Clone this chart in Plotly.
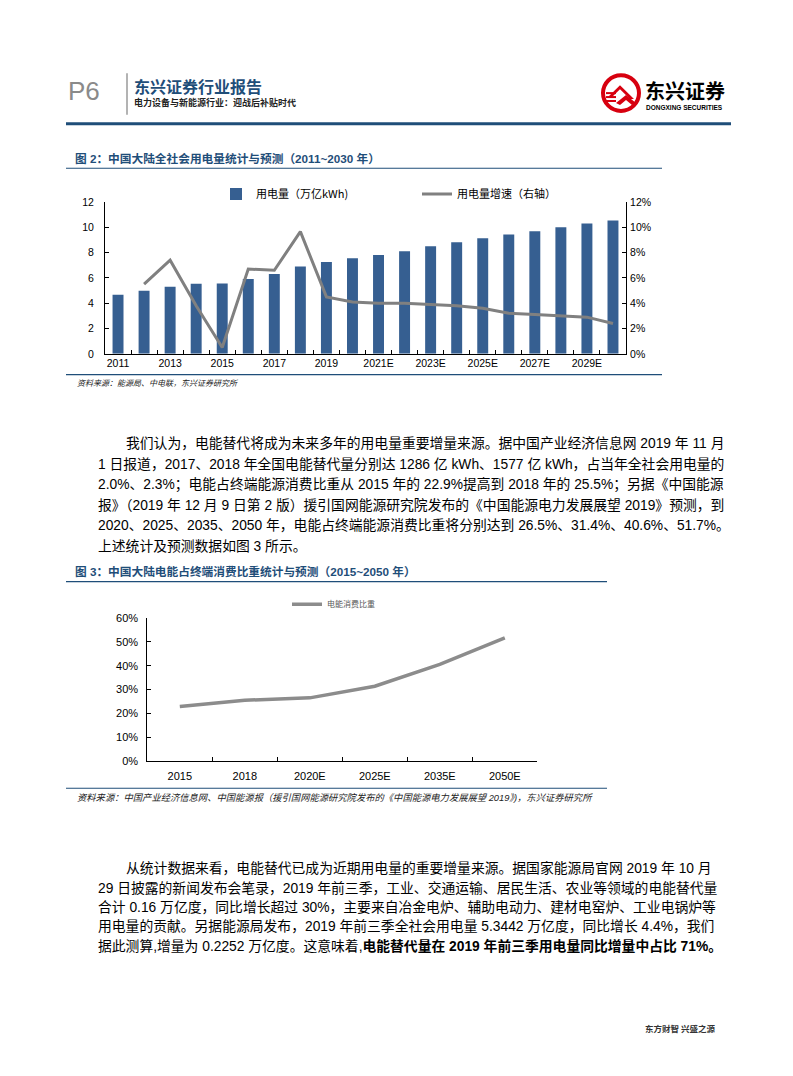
import plotly.graph_objects as go

W, H = 793, 1076
OX, OY = 8, 8  # page body margin offset

# ---------------- data ----------------
years = ["2011", "2012", "2013", "2014", "2015", "2016", "2017", "2018", "2019",
         "2020E", "2021E", "2022E", "2023E", "2024E", "2025E", "2026E", "2027E",
         "2028E", "2029E", "2030E"]
year_tick_labels = ["2011", "", "2013", "", "2015", "", "2017", "", "2019", "",
                    "2021E", "", "2023E", "", "2025E", "", "2027E", "", "2029E", ""]
consumption = [4.67, 4.98, 5.30, 5.53, 5.55, 5.92, 6.31, 6.90, 7.26, 7.55, 7.80,
               8.11, 8.50, 8.82, 9.13, 9.43, 9.68, 9.99, 10.29, 10.53]
growth_pct = [None, 5.5, 7.4, 3.8, 0.5, 6.7, 6.6, 9.65, 4.5, 4.1, 4.0, 4.0, 3.9,
              3.8, 3.6, 3.2, 3.1, 3.0, 2.9, 2.4]

share_years = ["2015", "2018", "2020E", "2025E", "2035E", "2050E"]
share_pct = [22.9, 25.5, 26.5, 31.4, 40.6, 51.7]

# ---------------- style ----------------
NAVY = "#1F4E79"
BAR = "#365F91"
GRAY_LINE = "#808080"
FONT = "Liberation Sans, Noto Sans CJK SC, sans-serif"
CJK = "Noto Sans CJK SC, Liberation Sans, sans-serif"


def px(x):
    return (x - OX) / W


def py(y):
    return 1 - (y - OY) / H


fig = go.Figure()

fig.add_trace(go.Bar(
    x=years, y=consumption, name="用电量（万亿kWh)",
    marker=dict(color=BAR, line=dict(width=0)),
    xaxis="x", yaxis="y", legend="legend",
))
fig.add_trace(go.Scatter(
    x=years, y=[None if g is None else g / 100 for g in growth_pct],
    name="用电量增速（右轴）", mode="lines",
    line=dict(color=GRAY_LINE, width=3),
    xaxis="x", yaxis="y2", legend="legend",
))
fig.add_trace(go.Scatter(
    x=share_years, y=[v / 100 for v in share_pct], name="电能消费比重",
    mode="lines", line=dict(color="#8C8C8C", width=3.5),
    xaxis="x2", yaxis="y3", legend="legend2",
))

axis_common = dict(showline=True, linecolor="black", linewidth=1, showgrid=False,
                   zeroline=False, ticks="inside", ticklen=4, tickcolor="black",
                   tickangle=0,
                   tickfont=dict(family=FONT, size=10.5, color="black"))
axis_c2 = {**axis_common, "tickfont": dict(family=FONT, size=11, color="black")}

legend_common = dict(orientation="h", xanchor="left", yanchor="middle",
                     bgcolor="rgba(0,0,0,0)", itemwidth=30, tracegroupgap=0)

fig.update_layout(
    width=W, height=H, autosize=False,
    margin=dict(l=0, r=0, t=0, b=0),
    paper_bgcolor="white", plot_bgcolor="white",
    bargap=0.58,
    xaxis=dict(domain=[px(105), px(626)], anchor="y", type="category",
               range=[-0.5, 19.5], tickmode="array", tickvals=years,
               ticktext=year_tick_labels, tickson="boundaries", **axis_common),
    yaxis=dict(domain=[py(351.7), py(198)], anchor="x", range=[0, 12], dtick=2,
               ticklabelstandoff=8, **axis_common),
    yaxis2=dict(overlaying="y", side="right", anchor="x", range=[0, 0.12],
                dtick=0.02, tickformat=".0%", ticklabelstandoff=1, **axis_common),
    xaxis2=dict(domain=[px(147.3), px(537.3)], anchor="y3", type="category",
                range=[-0.5, 5.5], tickson="boundaries", ticklabelstandoff=5, **axis_c2),
    yaxis3=dict(domain=[py(763.3), py(619)], anchor="x2", range=[0, 0.6],
                dtick=0.1, tickformat=".0%", ticklabelstandoff=6, **axis_c2),
    legend=dict(x=px(216), y=py(190), font=dict(family=CJK, size=11, color="black"),
                entrywidth=156, entrywidthmode="pixels", **legend_common),
    legend2=dict(x=px(287), y=py(605), font=dict(family=CJK, size=8, color="#595959"),
                 **legend_common),
)

shapes = []


def hline(x0, x1, y, color, width):
    shapes.append(dict(type="line", xref="paper", yref="paper", x0=px(x0), x1=px(x1),
                       y0=py(y), y1=py(y), line=dict(color=color, width=width)))


# header
hline(66, 731, 119, NAVY, 3)
shapes.append(dict(type="line", xref="paper", yref="paper", x0=px(127), x1=px(127),
                   y0=py(68), y1=py(110), line=dict(color="#9a9a9a", width=1.5)))
# chart frames
hline(66, 662, 164, NAVY, 1.2)
hline(66, 662, 372.7, NAVY, 1.2)
hline(66, 607, 582, NAVY, 1.2)
hline(66, 607, 791, NAVY, 1.2)

# logo
RED = "#D7000F"
cx, cy, r = 621, 88, 18
shapes.append(dict(type="circle", xref="paper", yref="paper", x0=px(cx - r), x1=px(cx + r),
                   y0=py(cy + r), y1=py(cy - r), line=dict(color=RED, width=4)))


def path(points):
    return "M " + " L ".join(f"{px(x):.5f},{py(y):.5f}" for x, y in points) + " Z"


shapes.append(dict(type="path", xref="paper", yref="paper",
                   path=path([(608, 92), (620, 80), (634, 94), (630, 94), (620, 84), (611, 93)]),
                   fillcolor=RED, line=dict(width=0)))
for yy in (88, 92, 96):
    shapes.append(dict(type="line", xref="paper", yref="paper", x0=px(606), x1=px(616),
                       y0=py(yy), y1=py(yy), line=dict(color=RED, width=2)))
shapes.append(dict(type="path", xref="paper", yref="paper",
                   path=path([(616, 98), (626, 90), (636, 98), (632, 100), (626, 95), (620, 100)]),
                   fillcolor=RED, line=dict(width=0)))

fig.update_layout(shapes=shapes)

ann = []


def txt(x, y, s, size, color="black", family=CJK, xanchor="left", yanchor="middle"):
    ann.append(dict(xref="paper", yref="paper", x=px(x), y=py(y), text=s, showarrow=False,
                    xanchor=xanchor, yanchor=yanchor, align="left",
                    font=dict(family=family, size=size, color=color)))


# header texts
txt(66, 86, "P6", 26, "#8a8a8a", "Liberation Sans Narrow, Liberation Sans, sans-serif")
txt(132, 81, "<b>东兴证券行业报告</b>", 16, NAVY)
txt(132, 98, "<b>电力设备与新能源行业：迎战后补贴时代</b>", 9, "#222222")
txt(643, 85, "<b>东兴证券</b>", 20, "black")
txt(644, 103, "<b>DONGXING SECURITIES</b>", 6.5, "black", "Liberation Sans, sans-serif")

# chart titles and sources
txt(73, 154, "<b>图 2：中国大陆全社会用电量统计与预测（2011~2030 年）</b>", 11.7, NAVY,
    "Liberation Sans, Noto Sans CJK SC")
txt(73, 572, "<b>图 3：中国大陆电能占终端消费比重统计与预测（2015~2050 年）</b>", 11.7, NAVY,
    "Liberation Sans, Noto Sans CJK SC")
txt(75, 382, "<i>资料来源：能源局、中电联，东兴证券研究所</i>", 8, "#222222",
    "Liberation Sans, Noto Sans CJK SC")
txt(75, 801, "<i>资料来源：中国产业经济信息网、中国能源报（援引国网能源研究院发布的《中国能源电力发展展望 2019》)，东兴证券研究所</i>",
    9.3, "#222222", "Liberation Sans, Noto Sans CJK SC")

# body paragraphs
BODY = "Liberation Sans, Noto Sans CJK SC, sans-serif"
p1 = [
    (124, 441.5, "我们认为，电能替代将成为未来多年的用电量重要增量来源。据中国产业经济信息网 2019 年 11 月"),
    (96, 463, "1 日报道，2017、2018 年全国电能替代量分别达 1286 亿 kWh、1577 亿 kWh，占当年全社会用电量的"),
    (96, 484, "2.0%、2.3%；电能占终端能源消费比重从 2015 年的 22.9%提高到 2018 年的 25.5%；另据《中国能源"),
    (96, 504.5, "报》（2019 年 12 月 9 日第 2 版）援引国网能源研究院发布的《中国能源电力发展展望 2019》预测，到"),
    (96, 525, "2020、2025、2035、2050 年，电能占终端能源消费比重将分别达到 26.5%、31.4%、40.6%、51.7%。"),
    (96, 546, "上述统计及预测数据如图 3 所示。"),
]
p2 = [
    (124, 871.5, "从统计数据来看，电能替代已成为近期用电量的重要增量来源。据国家能源局官网 2019 年 10 月"),
    (96, 891.5, "29 日披露的新闻发布会笔录，2019 年前三季，工业、交通运输、居民生活、农业等领域的电能替代量"),
    (96, 911, "合计 0.16 万亿度，同比增长超过 30%，主要来自冶金电炉、辅助电动力、建材电窑炉、工业电锅炉等"),
    (96, 930.5, "用电量的贡献。另据能源局发布，2019 年前三季全社会用电量 5.3442 万亿度，同比增长 4.4%，我们"),
    (96, 950.5, "据此测算,增量为 0.2252 万亿度。这意味着,<b>电能替代量在 2019 年前三季用电量同比增量中占比 71%。</b>"),
]
for x, y, s in p1 + p2:
    txt(x, y, s, 13.8, "black", BODY)

# footer
txt(643, 1033, "<b>东方财智 兴盛之源</b>", 8.5, "#333333")

fig.update_layout(annotations=ann)

fig.write_html("out.html")
